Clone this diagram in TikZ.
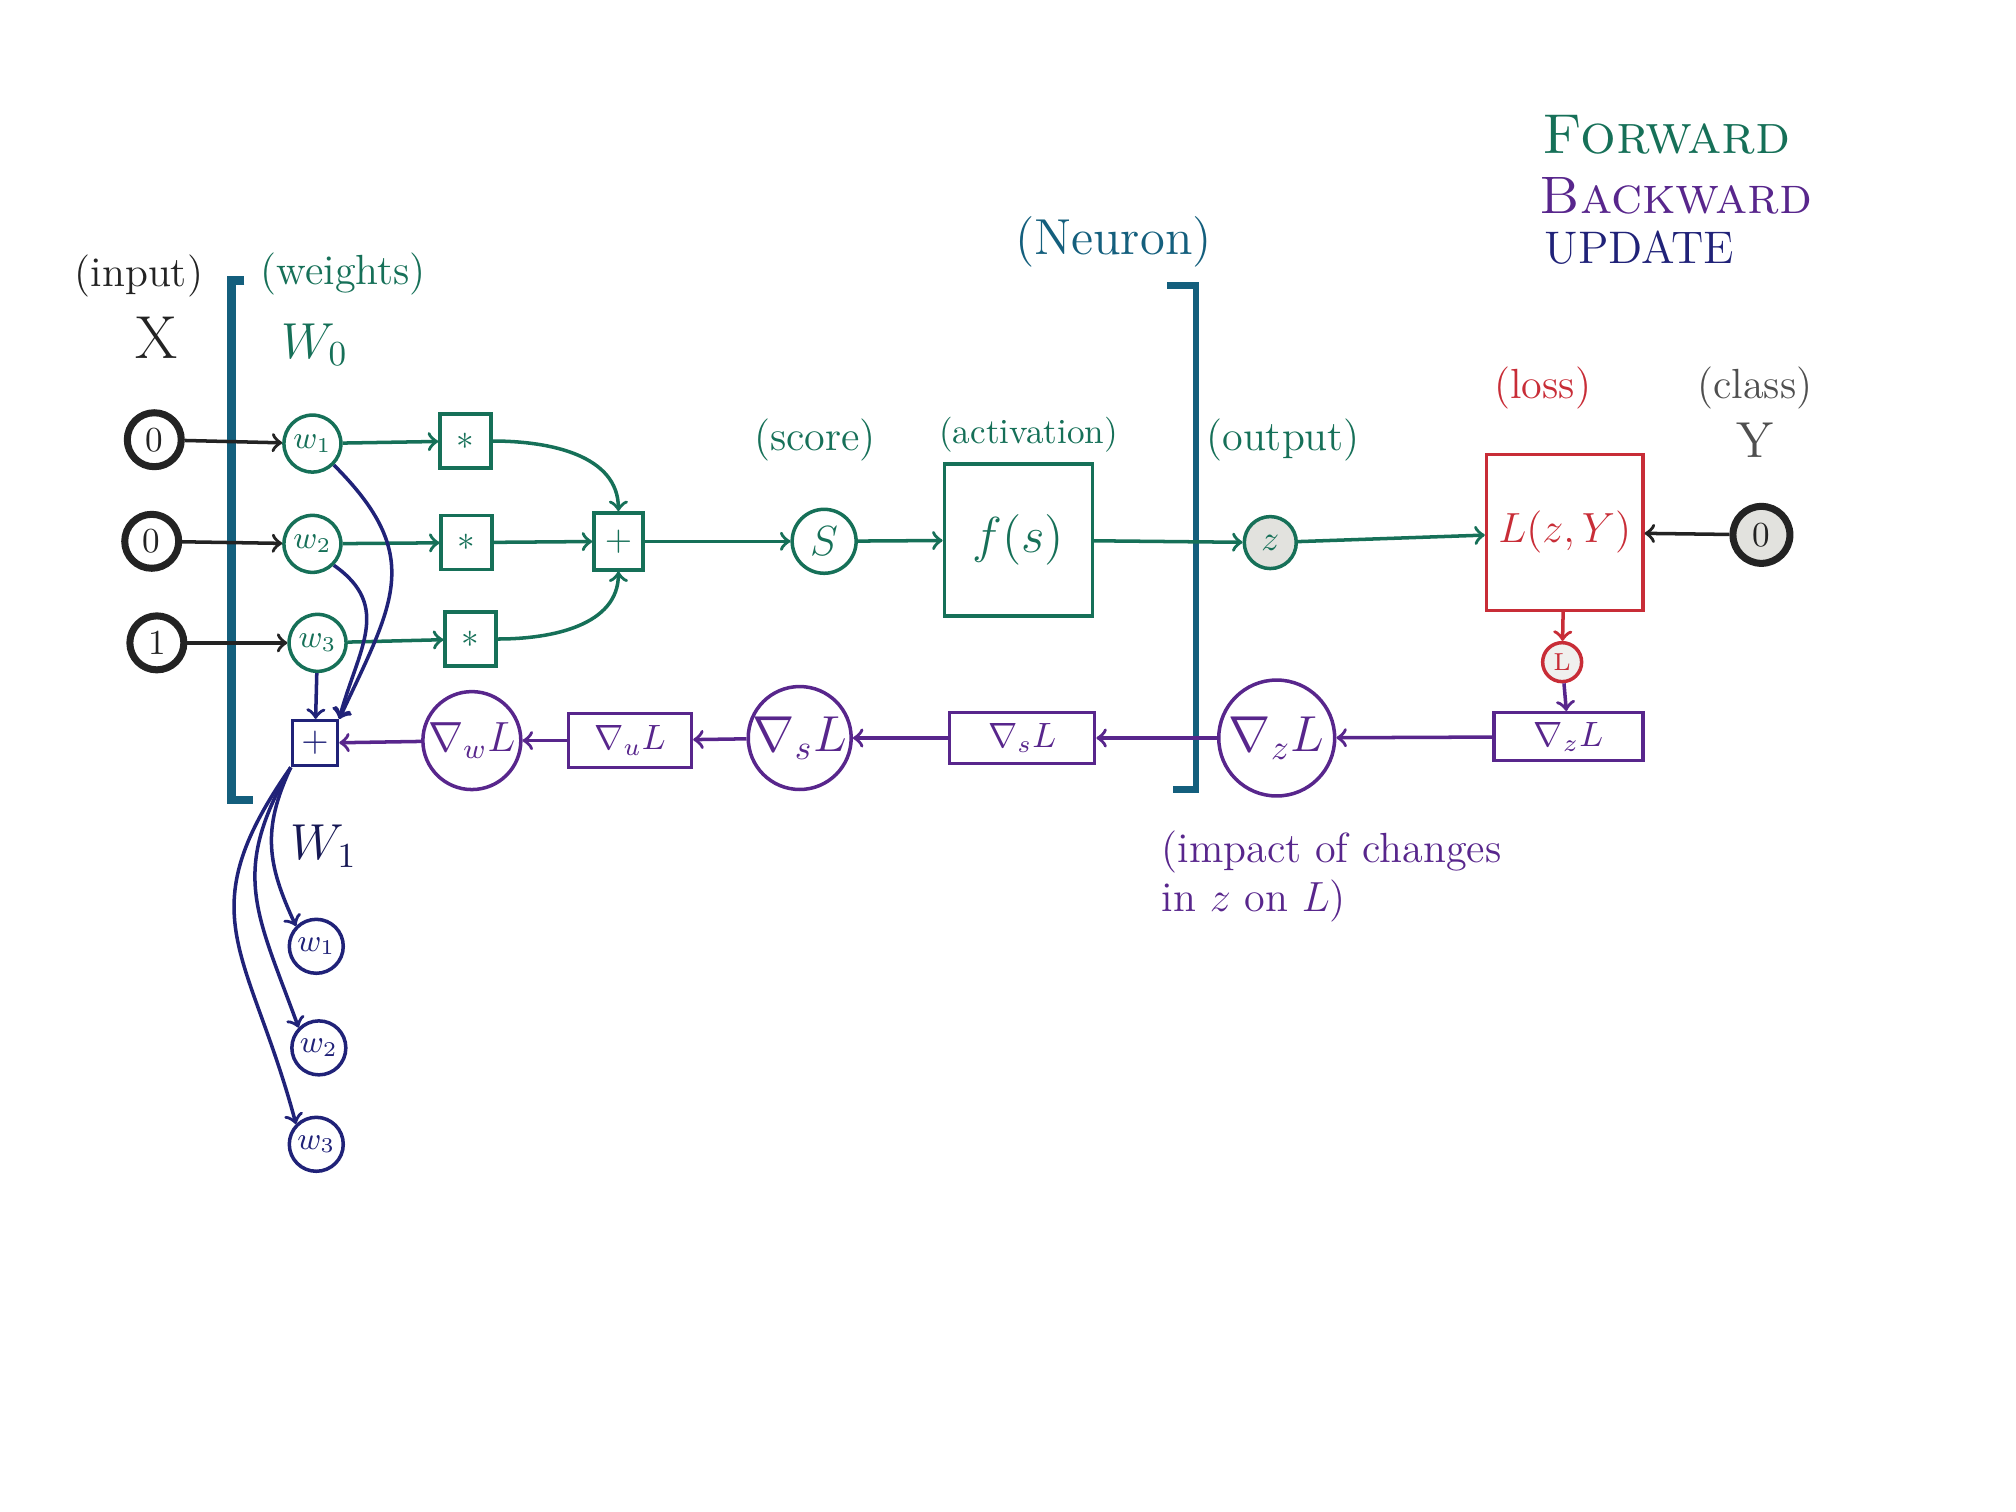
\documentclass[tikz,border=0pt]{standalone}
\usetikzlibrary{positioning}
\definecolor{fwd}{RGB}{22,112,88}
\definecolor{bwd}{RGB}{88,38,140}
\definecolor{upd}{RGB}{32,34,120}
\definecolor{nrn}{RGB}{20,95,125}
\definecolor{lss}{RGB}{200,45,55}
\definecolor{ink}{RGB}{35,35,35}
\definecolor{pale}{RGB}{226,226,222}
\begin{document}
\begin{tikzpicture}[x=0.012857cm,y=-0.012857cm,line width=1pt,
	lbl/.style={font=\large},
	incirc/.style={circle,draw=ink,line width=2pt,minimum size=0.54cm,inner sep=0pt,text=ink},
	wcirc/.style={circle,draw=fwd,minimum size=0.57cm,inner sep=0pt,text=fwd,font=\small},
	ucirc/.style={circle,draw=upd,minimum size=0.54cm,inner sep=0pt,text=upd,font=\small},
	opbox/.style={draw=fwd,minimum width=0.51cm,minimum height=0.54cm,inner sep=0pt,text=fwd},
	gbox/.style={draw=bwd,minimum width=1.45cm,minimum height=0.5cm,inner sep=0pt,text=bwd},
	gcirc/.style={circle,draw=bwd,inner sep=0pt,text=bwd,font=\Large}]
	
	\useasboundingbox (0,0) rectangle (1568,1176);
	
	\node[text=fwd,font=\fontsize{16}{19}\selectfont,anchor=west,inner sep=0pt] (lf) at (1198,105) {\textsc{Forward}};
	\node[text=bwd,font=\fontsize{15}{18}\selectfont,anchor=west,inner sep=0pt] (lb) at (1196,152) {\textsc{Backward}};
	\node[text=upd,font=\fontsize{13}{16}\selectfont,anchor=west,inner sep=0pt] (lu) at (1200,193) {UPDATE};
	
	\node[text=ink,lbl] (tin) at (108,215) {(input)};
	\node[text=ink,font=\LARGE] (tx) at (122,263) {X};
	\node[text=fwd,lbl] (tw) at (267,213) {(weights)};
	\node[text=fwd,font=\Large] (tw0) at (245,268) {$W_0$};
	\node[text=fwd,lbl] (tsc) at (634,342) {(score)};
	\node[text=fwd,font=\normalsize] (tac) at (800,338) {(activation)};
	\node[text=nrn,font=\Large] (tne) at (866,188) {(Neuron)};
	\node[text=fwd,lbl] (tou) at (998,342) {(output)};
	\node[text=lss,lbl] (tlo) at (1200,302) {(loss)};
	\node[text=ink!80,lbl] (tcl) at (1365,302) {(class)};
	\node[text=ink!80,font=\Large] (ty) at (1365,342) {Y};
	\node[text=upd!70!black,font=\Large] (tw1) at (252,658) {$W_1$};
	\node[text=bwd,lbl,align=left,anchor=north west] (tim) at (893,636) {(impact of changes\\in $z$ on $L$)};
	
	\draw[nrn,line width=2.4pt] (190,218) -- (180,218) -- (180,622) -- (197,622);
	\draw[nrn,line width=1.8pt] (908,222) -- (930,222) -- (930,614) -- (912,614);
	
	\node[incirc] (x1) at (120,342) {0};
	\node[incirc] (x2) at (118,421) {0};
	\node[incirc] (x3) at (122,500) {1};
	\node[wcirc] (w1) at (243,345) {$w_1$};
	\node[wcirc] (w2) at (243,423) {$w_2$};
	\node[wcirc] (w3) at (247,500) {$w_3$};
	\node[opbox] (m1) at (362,343) {$*$};
	\node[opbox] (m2) at (363,422) {$*$};
	\node[opbox] (m3) at (366,497) {$*$};
	\node[opbox,minimum width=0.49cm,minimum height=0.57cm] (sum) at (481,421) {$+$};
	\node[circle,draw=fwd,minimum size=0.64cm,inner sep=0pt,text=fwd,font=\large] (s) at (641,421) {$S$};
	\node[draw=fwd,minimum width=1.48cm,minimum height=1.52cm,text=fwd,font=\Large] (f) at (792,420) {$f(s)$};
	\node[circle,draw=fwd,fill=pale,minimum size=0.52cm,inner sep=0pt,text=fwd] (z) at (988,422) {$z$};
	\node[draw=lss,minimum width=1.48cm,minimum height=1.56cm,text=lss,font=\large] (loss) at (1217,414) {$L(z,Y)$};
	\node[incirc,fill=pale,minimum size=0.57cm] (y) at (1370,416) {0};
	\node[circle,draw=lss,fill=pale!50,minimum size=0.39cm,inner sep=0pt,text=lss,font=\scriptsize] (l) at (1215,515) {L};
	
	\node[gbox,minimum width=1.49cm,minimum height=0.48cm] (gzb) at (1220,573) {$\nabla_z L$};
	\node[gcirc,minimum size=1.16cm] (gzc) at (993,574) {$\nabla_z L$};
	\node[gbox,minimum height=0.51cm] (gsb) at (795,574) {$\nabla_s L$};
	\node[gcirc,minimum size=1.03cm] (gsc) at (622,574) {$\nabla_s L$};
	\node[gbox,minimum width=1.23cm,minimum height=0.54cm] (gub) at (490,576) {$\nabla_u L$};
	\node[gcirc,minimum size=0.98cm,font=\large] (gwc) at (367,576) {$\nabla_w L$};
	\node[draw=upd,minimum size=0.45cm,inner sep=0pt,text=upd] (u0) at (245,578) {$+$};
	\node[ucirc] (n1) at (246,736) {$w_1$};
	\node[ucirc] (n2) at (248,815) {$w_2$};
	\node[ucirc] (n3) at (246,890) {$w_3$};
	
	\draw[->,ink] (x1) -- (w1);
	\draw[->,ink] (x2) -- (w2);
	\draw[->,ink] (x3) -- (w3);
	\draw[->,fwd] (w1) -- (m1);
	\draw[->,fwd] (w2) -- (m2);
	\draw[->,fwd] (w3) -- (m3);
	\draw[->,fwd] (m1.east) to[out=0,in=90] (sum.north);
	\draw[->,fwd] (m2) -- (sum);
	\draw[->,fwd] (m3.east) to[out=0,in=-90] (sum.south);
	\draw[->,fwd] (sum) -- (s);
	\draw[->,fwd] (s) -- (f);
	\draw[->,fwd] (f) -- (z);
	\draw[->,fwd] (z) -- (loss);
	\draw[->,ink] (y) -- (loss);
	\draw[->,lss] (loss) -- (l);
	\draw[->,bwd] (l) -- (gzb);
	\draw[->,bwd] (gzb) -- (gzc);
	\draw[->,bwd] (gzc) -- (gsb);
	\draw[->,bwd] (gsb) -- (gsc);
	\draw[->,bwd] (gsc) -- (gub);
	\draw[->,bwd] (gub) -- (gwc);
	\draw[->,bwd] (gwc) -- (u0);
	
	\draw[->,upd] (w1.south east) to[out=-45,in=65,looseness=1.3] (u0.north east);
	\draw[->,upd] (w2.south east) to[out=-35,in=75,looseness=1.2] (u0.north east);
	\draw[->,upd] (w3) -- (u0);
	\draw[->,upd] (u0.south west) to[out=-115,in=115,looseness=1.1] (n1.north west);
	\draw[->,upd] (u0.south west) to[out=-120,in=110,looseness=1.2] (n2.north west);
	\draw[->,upd] (u0.south west) to[out=-125,in=105,looseness=1.3] (n3.north west);
\end{tikzpicture}
\end{document}
